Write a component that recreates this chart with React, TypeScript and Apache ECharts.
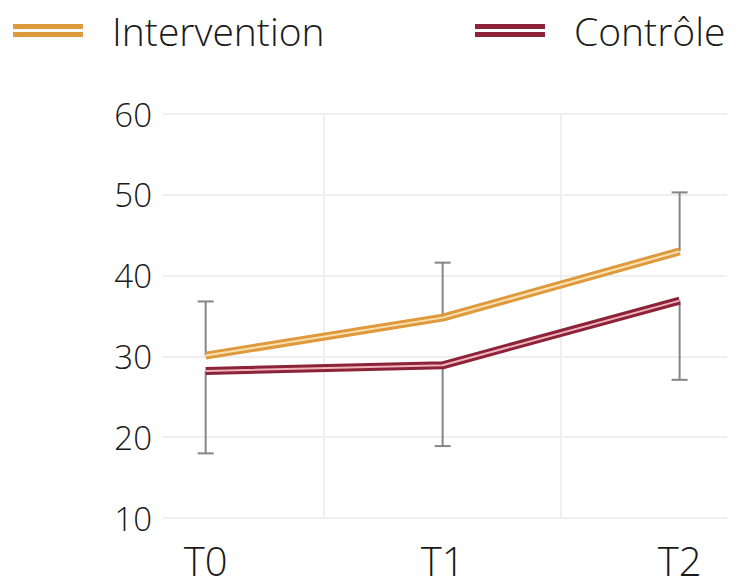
import React, { useEffect, useRef } from "react";
import * as echarts from "echarts";

const categories = ["T0", "T1", "T2"];
const interventionMeans = [30.1, 34.8, 43.0];
const interventionErrUp = [6.7, 6.8, 7.3];
const controlMeans = [28.2, 28.9, 36.9];
const controlErrDown = [10.2, 10.0, 9.8];
const yTicks = [10, 20, 30, 40, 50, 60];

const FONT = "'Open Sans', 'Noto Sans', sans-serif";

export default function App() {
  const ref = useRef<HTMLDivElement>(null);
  useEffect(() => {
    if (!ref.current) return;
    const chart = echarts.init(ref.current, null, { renderer: "svg" });
    const idx = categories.map((_, i) => i);
    const interData = idx.map((i) => [i, interventionMeans[i]]);
    const ctrlData = idx.map((i) => [i, controlMeans[i]]);
    const errData = [
      ...idx.map((i) => [i, interventionMeans[i], interventionMeans[i] + interventionErrUp[i]]),
      ...idx.map((i) => [i, controlMeans[i], controlMeans[i] - controlErrDown[i]]),
    ];
    const icon = "path://M0,0H70V5H0Z M0,8H70V13H0Z";
    const legendText = {
      fontSize: 39,
      color: "#1a1a1a",
      fontFamily: FONT,
      fontWeight: 300,
      lineHeight: 39,
      padding: [0, 0, 0, 24],
    };
    chart.setOption({
      animation: false,
      legend: [
        {
          data: [{ name: "Intervention", icon }],
          left: 13,
          top: 11,
          padding: 0,
          itemWidth: 70,
          itemHeight: 13,
          textStyle: legendText,
          selectedMode: false,
        },
        {
          data: [{ name: "Contrôle", icon }],
          left: 475,
          top: 11,
          padding: 0,
          itemWidth: 70,
          itemHeight: 13,
          textStyle: legendText,
          selectedMode: false,
        },
      ],
      grid: { left: 163, right: 8, top: 114, bottom: 69 },
      xAxis: {
        type: "value",
        min: -0.18,
        max: 2.2,
        axisLine: { show: false },
        axisTick: { show: false },
        splitLine: { show: false },
        axisLabel: {
          customValues: idx,
          formatter: (v: number) => categories[Math.round(v)] ?? "",
          fontSize: 40,
          lineHeight: 40,
          fontWeight: 300,
          color: "#1a1a1a",
          fontFamily: FONT,
          margin: 22,
        },
      },
      yAxis: {
        type: "value",
        min: yTicks[0],
        max: yTicks[yTicks.length - 1],
        interval: 10,
        axisLine: { show: false },
        axisTick: { show: false },
        splitLine: { show: true, lineStyle: { color: "#efefef", width: 2 } },
        axisLabel: { fontSize: 33, fontWeight: 300, color: "#1a1a1a", fontFamily: FONT, margin: 11 },
      },
      series: [
        {
          type: "custom",
          name: "err",
          z: 1,
          silent: true,
          data: errData,
          renderItem: (params: any, api: any) => {
            const x = api.value(0);
            const a = api.coord([x, api.value(1)]);
            const b = api.coord([x, api.value(2)]);
            const style = { stroke: "#858585", lineWidth: 2 };
            return {
              type: "group",
              children: [
                { type: "line", shape: { x1: a[0], y1: a[1], x2: b[0], y2: b[1] }, style },
                { type: "line", shape: { x1: b[0] - 8, y1: b[1], x2: b[0] + 8, y2: b[1] }, style },
              ],
            };
          },
        },
        {
          type: "line",
          name: "Intervention",
          data: interData,
          symbol: "none",
          z: 3,
          itemStyle: { color: "#DE9A3C" },
          lineStyle: { color: "#DE9A3C", width: 8 },
          markLine: {
            silent: true,
            symbol: "none",
            label: { show: false },
            lineStyle: { color: "#efefef", width: 2, type: "solid" },
            data: [{ xAxis: 0.5 }, { xAxis: 1.5 }],
            z: 0,
          },
        },
        {
          type: "line",
          name: "Intervention-inner",
          data: interData,
          symbol: "none",
          z: 4,
          lineStyle: { color: "#FBE2B5", width: 2 },
        },
        {
          type: "line",
          name: "Contrôle",
          data: ctrlData,
          symbol: "none",
          z: 3,
          itemStyle: { color: "#8C2338" },
          lineStyle: { color: "#8C2338", width: 8 },
        },
        {
          type: "line",
          name: "Contrôle-inner",
          data: ctrlData,
          symbol: "none",
          z: 4,
          lineStyle: { color: "#F0B4BC", width: 2 },
        },
      ],
    });
    return () => chart.dispose();
  }, []);
  return <div ref={ref} style={{ width: 735, height: 587, margin: -8 }} />;
}
